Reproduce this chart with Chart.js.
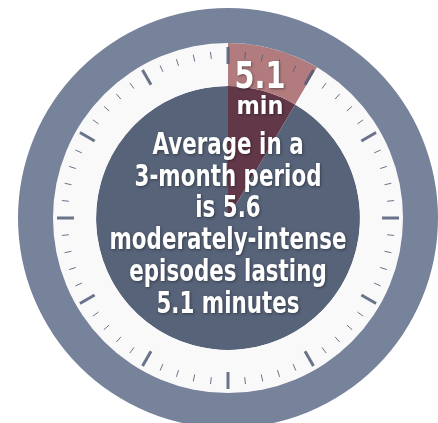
<!DOCTYPE html>
<html>
<head>
<meta charset="utf-8">
<script src="https://cdn.jsdelivr.net/npm/chart.js@4.4.1/dist/chart.umd.min.js"></script>
<style>
  html, body { margin: 0; padding: 0; background: #fff; overflow: hidden; }
  #wrap { position: absolute; left: 0; top: 0; width: 438px; height: 440px; }
</style>
</head>
<body>
<div id="wrap"><canvas id="clock" width="438" height="440"></canvas></div>
<script>
// values
const minutesPerLap = 60;
const episodeMinutes = 5.1;
const bigLabel = '5.1';
const unitLabel = 'min';
const textLines = ['Average in a', '3-month period', 'is 5.6', 'moderately-intense', 'episodes lasting', '5.1 minutes'];

const colors = {
  ring: '#77839b',
  face: '#f9f9f9',
  inner: '#576379',
  wedgeLight: '#b27c7e',
  wedgeDark: '#623849',
  tick: 'rgba(80,92,118,0.85)'
};

const FONT = '"DejaVu Sans Condensed", "Liberation Sans Narrow", sans-serif';

// draw condensed text: squeeze horizontally by k
function squeezed(ctx, text, x, y, k) {
  ctx.save();
  ctx.translate(x, y);
  ctx.scale(k, 1);
  ctx.fillText(text, 0, 0);
  ctx.restore();
}

const clockFace = {
  id: 'clockFace',
  afterDatasetsDraw(chart) {
    const ctx = chart.ctx;
    const face = chart.getDatasetMeta(1).data[0];
    const cx = face.x, cy = face.y;
    const rOut = face.outerRadius;

    // minute ticks
    ctx.save();
    ctx.strokeStyle = colors.tick;
    for (let m = 0; m < minutesPerLap; m++) {
      const major = m % 5 === 0;
      const a = -Math.PI / 2 + m / minutesPerLap * Math.PI * 2;
      const r1 = rOut - (major ? 4 : 8);
      const r2 = rOut - (major ? 21 : 15);
      ctx.lineWidth = major ? 3 : 1;
      ctx.beginPath();
      ctx.moveTo(cx + Math.cos(a) * r1, cy + Math.sin(a) * r1);
      ctx.lineTo(cx + Math.cos(a) * r2, cy + Math.sin(a) * r2);
      ctx.stroke();
    }
    ctx.restore();

    // texts
    ctx.save();
    ctx.fillStyle = '#fff';
    ctx.textAlign = 'center';
    ctx.textBaseline = 'middle';
    ctx.shadowColor = 'rgba(0,0,0,0.4)';
    ctx.shadowBlur = 3;
    ctx.shadowOffsetX = 1;
    ctx.shadowOffsetY = 1;

    ctx.font = 'bold 37px ' + FONT;
    let k = 51 / ctx.measureText(bigLabel).width;
    squeezed(ctx, bigLabel, cx + 32, cy - 140, k);
    ctx.font = 'bold 25px ' + FONT;
    k = 47 / ctx.measureText(unitLabel).width;
    squeezed(ctx, unitLabel, cx + 32, cy - 111, k);

    ctx.font = 'bold 30px ' + FONT;
    k = 237 / ctx.measureText('moderately-intense').width;
    const lh = 31.8;
    textLines.forEach((t, i) => {
      squeezed(ctx, t, cx, cy - 72 + i * lh, k);
    });
    ctx.restore();
  }
};

new Chart(document.getElementById('clock'), {
  type: 'doughnut',
  data: {
    labels: ['episode', 'rest'],
    datasets: [
      {
        data: [minutesPerLap],
        backgroundColor: [colors.ring],
        weight: 35
      },
      {
        data: [episodeMinutes, minutesPerLap - episodeMinutes],
        backgroundColor: [colors.wedgeLight, colors.face],
        weight: 43
      },
      {
        data: [episodeMinutes, minutesPerLap - episodeMinutes],
        backgroundColor: [colors.wedgeDark, colors.inner],
        weight: 132
      }
    ]
  },
  options: {
    responsive: false,
    animation: false,
    cutout: 0,
    borderWidth: 0,
    layout: { padding: { left: 18, right: 0, top: 8, bottom: 12 } },
    plugins: {
      legend: { display: false },
      tooltip: { enabled: false }
    }
  },
  plugins: [clockFace]
});
</script>
</body>
</html>
